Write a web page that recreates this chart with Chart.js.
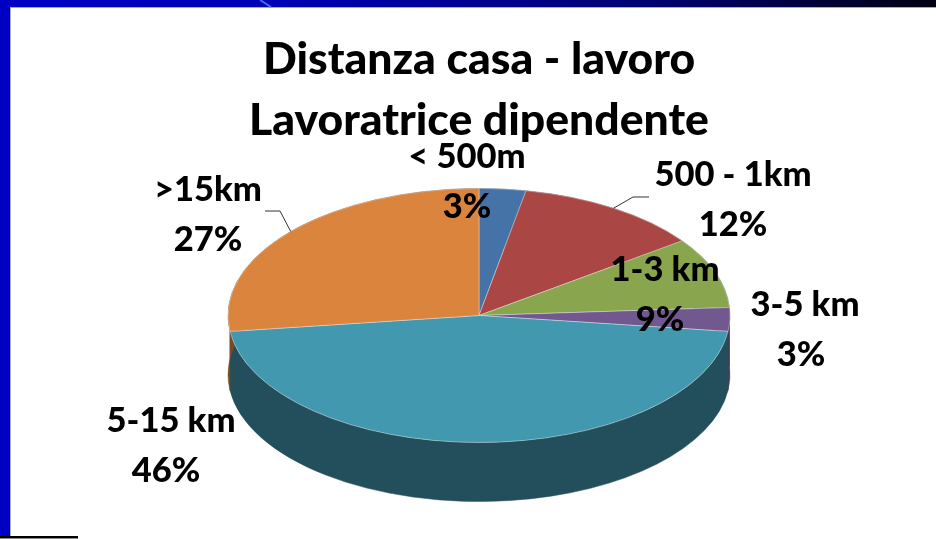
<!DOCTYPE html>
<html lang="it">
<head>
<meta charset="utf-8">
<title>Distanza casa - lavoro</title>
<style>html,body{margin:0;padding:0;background:#fff}canvas{display:block}</style>
<script src="https://cdn.jsdelivr.net/npm/chart.js@4"></script>
</head>
<body>
<canvas id="c" width="936" height="539"></canvas>
<script>
const categories = ['< 500m', '500 - 1km', '1-3 km', '3-5 km', '5-15 km', '>15km'];
const shares = [3, 12, 9, 3, 46, 27];
const titleLines = ['Distanza casa - lavoro', 'Lavoratrice dipendente'];
const topColors = ['#4572A7', '#AA4643', '#89A54E', '#71588F', '#4198AF', '#DB843D'];
const sideColors = ['#2A4565', '#672A28', '#53632F', '#4A3A5E', '#234F5C', '#7A4A22'];

// layout, kept apart from the data
const RADIUS = 251, SQUASH = 127 / 251, DEPTH = 59;
const labelCentres = [[467, 157], [733, 175], [665, 270], [805, 305], [171, 421], [208, 190]];
const valueCentres = [[467, 207], [733, 225], [660, 320], [801, 355], [166, 471], [208, 240]];
const leaders = {1: [[649, 197], [633, 197]], 5: [[265, 211], [280, 211]]};

function edgePoint(el, frac) {
  const a = el.startAngle + (el.endAngle - el.startAngle) * frac;
  return [el.x + el.outerRadius * Math.cos(a), el.y + el.outerRadius * SQUASH * Math.sin(a)];
}

const piePlugin = {
  id: 'pie3d',
  beforeDraw(chart) {
    const {ctx, width, height} = chart;
    ctx.save();
    const g = ctx.createLinearGradient(0, 0, width, 0);
    g.addColorStop(0, '#0000C4');
    g.addColorStop(0.3, '#0000B4');
    g.addColorStop(0.7, '#000070');
    g.addColorStop(1, '#000010');
    ctx.fillStyle = g;
    ctx.fillRect(0, 0, width, 7);
    ctx.fillStyle = '#0000C4';
    ctx.fillRect(0, 0, 10, height);
    ctx.fillStyle = '#A9A9B8';
    ctx.fillRect(10, 7, width - 10, 1);
    ctx.fillRect(10, 7, 1, height - 7);
    ctx.strokeStyle = '#3C6FE8';
    ctx.lineWidth = 2;
    ctx.beginPath(); ctx.moveTo(260, 0); ctx.lineTo(271, 7); ctx.stroke();
    ctx.fillStyle = '#000';
    ctx.fillRect(0, 536, 78, 2);
    ctx.fillStyle = '#8a8a8a';
    ctx.fillRect(0, 538, 78, 1);
    ctx.restore();
  },
  beforeDatasetsDraw(chart) {
    const {ctx} = chart;
    const arcs = chart.getDatasetMeta(0).data;
    ctx.save();
    arcs.forEach((el, i) => {
      const p = el.getProps(['x', 'y', 'startAngle', 'endAngle', 'outerRadius']);
      const ry = p.outerRadius * SQUASH;
      ctx.fillStyle = sideColors[i];
      ctx.strokeStyle = sideColors[i];
      ctx.lineWidth = 0.5;
      ctx.beginPath();
      ctx.ellipse(p.x, p.y, p.outerRadius, ry, 0, p.startAngle, p.endAngle);
      ctx.ellipse(p.x, p.y + DEPTH, p.outerRadius, ry, 0, p.endAngle, p.startAngle, true);
      ctx.closePath();
      ctx.fill();
      ctx.stroke();
    });
    ctx.restore();
  },
  beforeDatasetDraw(chart, args) {
    const {ctx} = chart;
    const el = args.meta.data[0];
    ctx.save();
    ctx.translate(el.x, el.y);
    ctx.scale(1, SQUASH);
    ctx.translate(-el.x, -el.y);
  },
  afterDatasetDraw(chart) {
    chart.ctx.restore();
  },
  afterDatasetsDraw(chart) {
    const {ctx} = chart;
    const arcs = chart.getDatasetMeta(0).data;
    ctx.save();
    ctx.strokeStyle = '#333';
    ctx.lineWidth = 1;
    Object.keys(leaders).forEach(k => {
      const pts = leaders[k];
      const end = edgePoint(arcs[k], 0.5);
      ctx.beginPath();
      ctx.moveTo(pts[0][0], pts[0][1]);
      ctx.lineTo(pts[1][0], pts[1][1]);
      ctx.lineTo(end[0], end[1]);
      ctx.stroke();
    });
    ctx.fillStyle = '#000';
    ctx.font = '900 34.5px Lato, "Open Sans", sans-serif';
    ctx.textAlign = 'center';
    ctx.textBaseline = 'middle';
    categories.forEach((name, i) => {
      ctx.fillText(name, labelCentres[i][0], labelCentres[i][1]);
      ctx.fillText(shares[i] + '%', valueCentres[i][0], valueCentres[i][1]);
    });
    ctx.restore();
  }
};

new Chart(document.getElementById('c'), {
  type: 'pie',
  data: {
    labels: categories,
    datasets: [{
      data: shares,
      backgroundColor: topColors,
      borderColor: 'rgba(235,235,240,0.55)',
      borderWidth: 1,
      clip: false
    }]
  },
  plugins: [piePlugin],
  options: {
    responsive: false,
    animation: false,
    radius: RADIUS,
    layout: {padding: {left: 22, right: 0, top: 0, bottom: 59}},
    plugins: {
      legend: {display: false},
      tooltip: {enabled: false},
      title: {
        display: true,
        text: titleLines,
        color: '#000',
        font: {family: 'Lato, "Open Sans", sans-serif', size: 44.5, weight: '900', lineHeight: 61 / 44.5},
        padding: {top: 29, bottom: 0}
      }
    }
  }
});
</script>
</body>
</html>
